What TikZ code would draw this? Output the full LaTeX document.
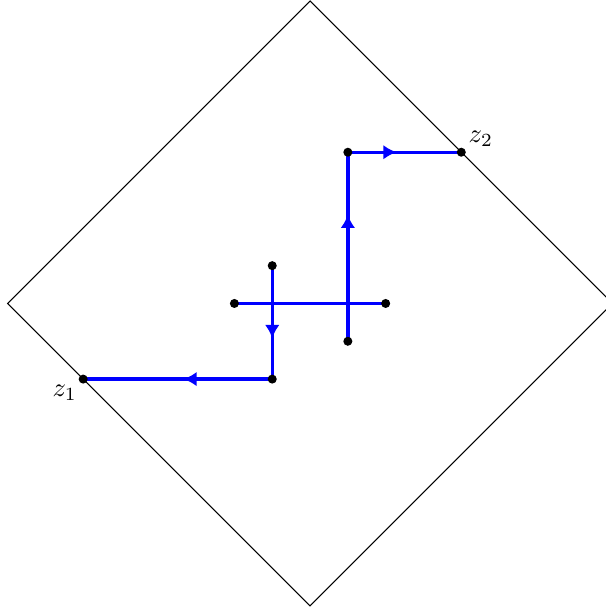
\documentclass[tikz,border=0pt]{standalone}
\usetikzlibrary{arrows.meta,decorations.markings,positioning}

\tikzset{
  dot/.style={circle, fill=black, inner sep=0pt, minimum size=3.4pt},
  path/.style={blue, line width=1.25pt},
  midarrow/.style={postaction={decorate},
    decoration={markings, mark=at position #1 with {\arrow{Latex[length=5pt,width=5.5pt]}}}},
}

\begin{document}
\begin{tikzpicture}
  \useasboundingbox (-4.1,-4.08) rectangle (3.913,4.013);

  % Boundary of the domain
  \coordinate (top)    at (0,4);
  \coordinate (left)   at (-4,0);
  \coordinate (bottom) at (0,-4);
  \coordinate (right)  at (4,0);
  \draw[line width=0.4pt] (top) -- (left) -- (bottom) -- (right) -- cycle;

  % End points and corners
  \coordinate (z1) at (-3,-1);
  \coordinate (c1) at (-0.5,-1);
  \coordinate (s1) at (-0.5,0.5);
  \coordinate (z2) at (2,2);
  \coordinate (c2) at (0.5,2);
  \coordinate (s2) at (0.5,-0.5);
  \coordinate (h1) at (-1,0);
  \coordinate (h2) at (1,0);

  % Contours
  \draw[path] (h1) -- (h2);
  \draw[path, midarrow=0.64] (s1) -- (c1);
  \draw[path, midarrow=0.47] (c1) -- (z1);
  \draw[path, midarrow=0.67] (s2) -- (c2);
  \draw[path, midarrow=0.43] (c2) -- (z2);

  \foreach \p in {z1,c1,s1,z2,c2,s2,h1,h2}
    \node[dot] (d-\p) at (\p) {};

  \node[below left=-2.75pt and -2.5pt of d-z1] (l1) {$z_1$};
  \node[above right=-2.75pt and -2.1pt of d-z2] (l2) {$z_2$};
\end{tikzpicture}
\end{document}
